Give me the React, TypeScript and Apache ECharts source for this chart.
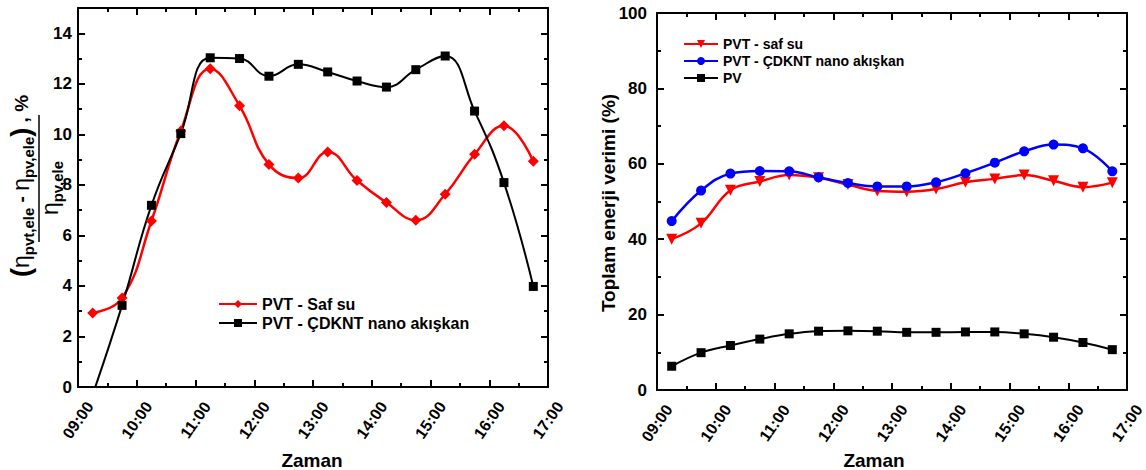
import React, { useEffect, useRef } from 'react';
import * as echarts from 'echarts';

// ---------- data ----------
const times = ['09:15', '09:45', '10:15', '10:45', '11:15', '11:45', '12:15', '12:45',
  '13:15', '13:45', '14:15', '14:45', '15:15', '15:45', '16:15', '16:45'];

// left chart: relative electrical efficiency gain (%)
const leftSeriesNames = ['PVT - Saf su', 'PVT - ÇDKNT nano akışkan'];
const gainSafSu = [2.93, 3.52, 6.57, 10.13, 12.6, 11.13, 8.81, 8.27, 9.3, 8.17, 7.3, 6.6, 7.63, 9.21, 10.34, 8.93];
const gainCdknt = [-0.3, 3.23, 7.19, 10.03, 13.03, 13.0, 12.3, 12.77, 12.47, 12.11, 11.87, 12.56, 13.1, 10.92, 8.09, 3.98];

// right chart: total energy efficiency (%)
const rightSeriesNames = ['PVT - saf su', 'PVT - ÇDKNT nano akışkan', 'PV'];
const totalSafSu = [40.0, 44.2, 53.0, 55.3, 57.0, 56.3, 54.5, 52.8, 52.6, 53.3, 55.1, 56.0, 57.0, 55.5, 53.8, 55.0];
const totalCdknt = [44.8, 52.9, 57.4, 58.1, 58.0, 56.4, 54.9, 54.0, 54.0, 55.1, 57.5, 60.3, 63.3, 65.1, 64.1, 58.0];
const totalPv = [6.3, 9.9, 11.8, 13.5, 14.9, 15.6, 15.7, 15.6, 15.3, 15.3, 15.4, 15.4, 14.9, 14.0, 12.6, 10.7];

const xAxisTitle = 'Zaman';
const rightYTitle = 'Toplam enerji verimi (%)';

// ---------- helpers ----------
const FONT = '"Liberation Sans", Arial, sans-serif';
const toHours = (t: string) => {
  const [h, m] = t.split(':').map(Number);
  return h + m / 60;
};
const pairs = (vals: number[]) => vals.map((v, i) => [toHours(times[i]), v]);
const hourLabel = (v: number) => (v < 10 ? '0' : '') + Math.round(v) + ':00';

const tickStyle = { color: '#000', width: 2 };

function xAxes() {
  const base = {
    type: 'value', min: 9, max: 17, interval: 1,
    axisLine: { show: true, onZero: false, lineStyle: tickStyle },
    axisTick: { show: true, inside: true, length: 7, lineStyle: tickStyle },
    minorTick: { show: true, splitNumber: 2, length: 4, lineStyle: tickStyle },
    splitLine: { show: false }, minorSplitLine: { show: false },
  };
  return [
    {
      ...base, position: 'bottom',
      axisLabel: {
        show: true, rotate: 55, align: 'center', verticalAlign: 'middle', margin: 33,
        showMinLabel: true, showMaxLabel: true,
        formatter: hourLabel, color: '#000', fontWeight: 'bold', fontSize: 16, fontFamily: FONT,
      },
    },
    { ...base, position: 'top', axisLabel: { show: false } },
  ];
}

function yAxes(max: number, interval: number, margin: number) {
  const base = {
    type: 'value', min: 0, max, interval,
    axisLine: { show: true, onZero: false, lineStyle: tickStyle },
    axisTick: { show: true, inside: true, length: 7, lineStyle: tickStyle },
    minorTick: { show: true, splitNumber: 2, length: 4, lineStyle: tickStyle },
    splitLine: { show: false }, minorSplitLine: { show: false },
  };
  return [
    {
      ...base, position: 'left',
      axisLabel: {
        show: true, margin, showMinLabel: true, showMaxLabel: true,
        formatter: (v: number) => (v % interval === 0 ? String(v) : ''),
        color: '#000', fontWeight: 'bold', fontSize: 17, fontFamily: FONT,
      },
    },
    { ...base, position: 'right', axisLabel: { show: false } },
  ];
}

const titleText = (text: string, x: number, y: number, rotate = false) => ({
  type: 'text', x, y, rotation: rotate ? Math.PI / 2 : 0,
  style: {
    text, fill: '#000', font: `bold 19px ${FONT}`,
    align: 'center', verticalAlign: 'middle',
  },
});

const subRich = {
  lp: { fontSize: 27, fontWeight: 'bold', fontFamily: FONT, lineHeight: 30, verticalAlign: 'middle' },
  e: { fontSize: 23, fontFamily: FONT, lineHeight: 30, verticalAlign: 'middle' },
  s: { fontSize: 15, fontWeight: 'bold', fontFamily: FONT, lineHeight: 15, verticalAlign: 'bottom' },
  m: { fontSize: 19, fontWeight: 'bold', fontFamily: FONT, lineHeight: 30, verticalAlign: 'middle' },
};

const leftOption = {
  animation: false,
  backgroundColor: '#fff',
  grid: { left: 78, top: 8, width: 470, height: 379, outerBoundsMode: 'none', containLabel: false },
  xAxis: xAxes(),
  yAxis: yAxes(15, 2, 6),
  legend: {
    orient: 'vertical', left: 218, top: 296, padding: 0, itemWidth: 38, itemHeight: 10, itemGap: 3,
    selectedMode: false, data: leftSeriesNames,
    textStyle: { color: '#000', fontWeight: 'bold', fontSize: 16, fontFamily: FONT },
  },
  series: [
    {
      name: leftSeriesNames[0], type: 'line', smooth: 0.45, clip: true,
      data: pairs(gainSafSu), symbol: 'diamond', symbolSize: 11,
      itemStyle: { color: '#ff0000' }, lineStyle: { color: '#ff0000', width: 2.5 },
    },
    {
      name: leftSeriesNames[1], type: 'line', smooth: 0.45, clip: true,
      data: pairs(gainCdknt), symbol: 'rect', symbolSize: 9,
      itemStyle: { color: '#000' }, lineStyle: { color: '#000', width: 2 },
    },
  ],
  graphic: [
    {
      type: 'text', x: 21, y: 186, rotation: Math.PI / 2,
      style: {
        text: '{lp|(}{e|η}{s|pvt,ele}{m| - }{e|η}{s|pv,ele}{lp|)}{m| , %}',
        rich: subRich, fill: '#000', align: 'center', verticalAlign: 'middle',
      },
    },
    { type: 'line', shape: { x1: 39, y1: 115, x2: 39, y2: 242 }, style: { stroke: '#000', lineWidth: 1.5 } },
    {
      type: 'text', x: 50, y: 188, rotation: Math.PI / 2,
      style: {
        text: '{e|η}{s|pv,ele}',
        rich: subRich, fill: '#000', align: 'center', verticalAlign: 'middle',
      },
    },
    titleText(xAxisTitle, 312, 460),
  ],
};

const rightOption = {
  animation: false,
  backgroundColor: '#fff',
  grid: { left: 84, top: 13, width: 470, height: 377, outerBoundsMode: 'none', containLabel: false },
  xAxis: xAxes(),
  yAxis: yAxes(100, 20, 10),
  legend: {
    orient: 'vertical', left: 110, top: 37, padding: 0, itemWidth: 34, itemHeight: 10, itemGap: 3,
    selectedMode: false, data: rightSeriesNames,
    textStyle: { color: '#000', fontWeight: 'bold', fontSize: 14, fontFamily: FONT },
  },
  series: [
    {
      name: rightSeriesNames[0], type: 'line', smooth: 0.4,
      data: pairs(totalSafSu), symbol: 'triangle', symbolRotate: 180, symbolSize: 11,
      itemStyle: { color: '#ff0000' }, lineStyle: { color: '#ff0000', width: 2.5 },
    },
    {
      name: rightSeriesNames[1], type: 'line', smooth: 0.4,
      data: pairs(totalCdknt), symbol: 'circle', symbolSize: 10,
      itemStyle: { color: '#0000ff' }, lineStyle: { color: '#0000ff', width: 2.5 },
    },
    {
      name: rightSeriesNames[2], type: 'line', smooth: 0.4,
      data: pairs(totalPv), symbol: 'rect', symbolSize: 9,
      itemStyle: { color: '#000' }, lineStyle: { color: '#000', width: 2 },
    },
  ],
  graphic: [
    titleText(rightYTitle, 35, 203, true),
    titleText(xAxisTitle, 301, 460),
  ],
};

export default function App() {
  const leftRef = useRef<HTMLDivElement>(null);
  const rightRef = useRef<HTMLDivElement>(null);
  useEffect(() => {
    const l = echarts.init(leftRef.current!, undefined, { renderer: 'svg' });
    const r = echarts.init(rightRef.current!, undefined, { renderer: 'svg' });
    l.setOption(leftOption as any);
    r.setOption(rightOption as any);
    return () => {
      l.dispose();
      r.dispose();
    };
  }, []);
  return (
    <div style={{ position: 'absolute', left: 0, top: 0, width: 1146, height: 470, background: '#fff' }}>
      <div ref={leftRef} style={{ position: 'absolute', left: 0, top: 0, width: 573, height: 470 }} />
      <div ref={rightRef} style={{ position: 'absolute', left: 573, top: 0, width: 573, height: 470 }} />
    </div>
  );
}
